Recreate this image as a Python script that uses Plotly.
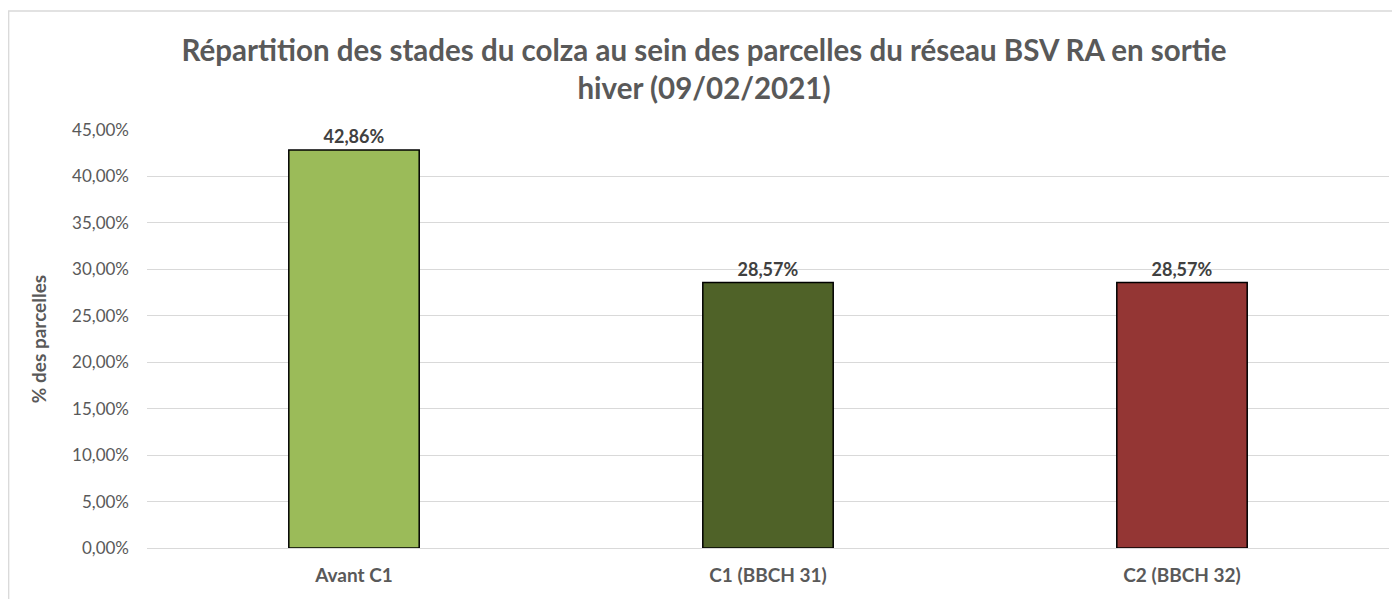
import plotly.graph_objects as go

categories = ["Avant C1", "C1 (BBCH 31)", "C2 (BBCH 32)"]
values = [0.4286, 0.2857, 0.2857]
colors = ["#9BBB59", "#4F6228", "#943634"]
tick_vals = [0, 0.05, 0.10, 0.15, 0.20, 0.25, 0.30, 0.35, 0.40, 0.45]

# page body has an 8px margin, so the figure is 8px smaller than the window
W, H = 1392, 591
L, R, T, B = 139, 11, 122, 51
pw, ph = W - L - R, H - T - B

fig = go.Figure(go.Bar(
    x=categories, y=values,
    marker=dict(color=colors, line=dict(color="#000000", width=1.5)),
    width=0.315,
    texttemplate="<b>%{y:.2%}</b>", textposition="outside",
    textfont=dict(family="Lato", size=18, color="#404040"),
    cliponaxis=False,
))

fig.update_layout(
    width=W, height=H,
    margin=dict(l=L, r=R, t=T, b=B, pad=0),
    separators=", ",
    paper_bgcolor="white", plot_bgcolor="white",
    font=dict(family="Lato", color="#595959"),
    title=dict(
        text="<b>Répartition des stades du colza au sein des parcelles du réseau BSV RA en sortie<br>hiver (09/02/2021)</b>",
        x=0.5, xanchor="center", y=1 - 53 / H, yanchor="middle",
        font=dict(family="Lato", size=29.5, color="#595959"),
    ),
    showlegend=False,
    bargap=0.685,
    xaxis=dict(
        tickfont=dict(family="Lato", size=19, color="#595959"),
        tickprefix="<b>", ticksuffix="</b>",
        showline=False, showgrid=False,
        ticks="outside", ticklen=10, tickcolor="rgba(0,0,0,0)",
    ),
    yaxis=dict(
        range=[0, 0.45], tickvals=tick_vals, tickformat=".2%",
        tickfont=dict(family="Lato", size=17, color="#595959"),
        gridcolor="#D9D9D9", gridwidth=1.3,
        zeroline=True, zerolinecolor="#D9D9D9", zerolinewidth=1.3,
        showline=False, ticks="", ticklabelstandoff=17,
        title=dict(text="<b>% des parcelles</b>", font=dict(family="Lato", size=19, color="#595959"), standoff=20),
    ),
    shapes=[dict(
        type="rect", xref="paper", yref="paper",
        x0=(0.7 - L) / pw, x1=(W + 5 - L) / pw,
        y0=(H - B - (H + 5)) / ph, y1=(H - B - 3) / ph,
        line=dict(color="#D9D9D9", width=1.3), fillcolor="rgba(0,0,0,0)", layer="below",
    )],
)

fig.write_html("out.html")
